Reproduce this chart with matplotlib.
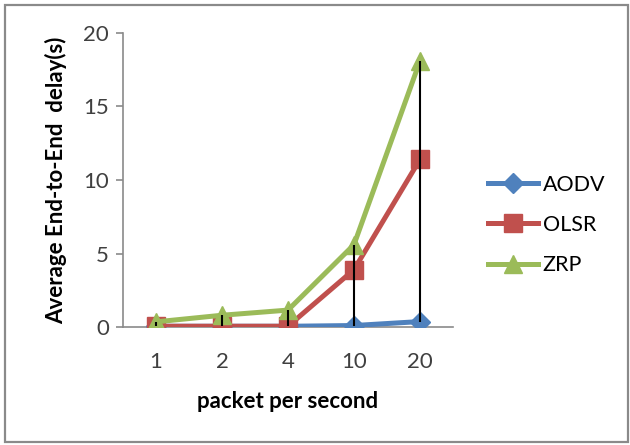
import matplotlib
matplotlib.use("Agg")
import matplotlib.pyplot as plt
from matplotlib.patches import Rectangle

plt.rcParams['font.family'] = ['Lato', 'DejaVu Sans']

categories = ["1", "2", "4", "10", "20"]
aodv = [0.05, 0.05, 0.05, 0.1, 0.37]
olsr = [0.05, 0.05, 0.05, 3.9, 11.4]
zrp = [0.35, 0.8, 1.15, 5.6, 18.1]

series = [
    ("AODV", aodv, "#4F81BD", "D", 10),
    ("OLSR", olsr, "#C0504D", "s", 13),
    ("ZRP", zrp, "#9BBB59", "^", 13),
]

W, H = 630, 445
fig = plt.figure(figsize=(W / 100, H / 100), dpi=100)

# chart frame
fig.patches.append(Rectangle((5 / W, 3 / H), 623 / W, 437 / H, transform=fig.transFigure,
                             fill=False, edgecolor="#8a8a8a", linewidth=1.6))

ax = fig.add_axes([123 / W, 1 - 327 / H, 330 / W, 294 / H])
x = list(range(len(categories)))

for name, vals, color, marker, ms in series:
    ax.plot(x, vals, color=color, linewidth=3.6, marker=marker, markersize=ms,
            markeredgecolor=color, label=name, zorder=3)

# high-low lines
lows = [min(v) for v in zip(aodv, olsr, zrp)]
highs = [max(v) for v in zip(aodv, olsr, zrp)]
ax.vlines(x, lows, highs, colors="black", linewidth=1.5, zorder=5)

ax.set_xlim(-0.5, len(categories) - 0.5)
ax.set_ylim(0, 20)
ax.set_yticks([0, 5, 10, 15, 20])
ax.set_xticks(x)
ax.set_xticklabels(categories)

for s in ["top", "right"]:
    ax.spines[s].set_visible(False)
for s in ["left", "bottom"]:
    ax.spines[s].set_color("#8a8a8a")
    ax.spines[s].set_linewidth(1.2)
ax.tick_params(axis="y", length=5, width=1.2, color="#8a8a8a", labelsize=16,
               labelcolor="#404040", pad=5)
ax.tick_params(axis="x", length=0, labelsize=16, labelcolor="#404040", pad=18)

ax.set_xlabel("packet per second", fontsize=16, fontweight="bold", labelpad=14)
ax.set_ylabel("Average End-to-End  delay(s)", fontsize=16, fontweight="bold", labelpad=12)

fig.legend(loc="center left", bbox_to_anchor=(488 / W, 1 - 225 / H), frameon=False,
           fontsize=15.5, handlelength=2.3, handletextpad=0.25, labelspacing=0.95,
           borderaxespad=0, borderpad=0)

fig.savefig("out.png", dpi=100)
